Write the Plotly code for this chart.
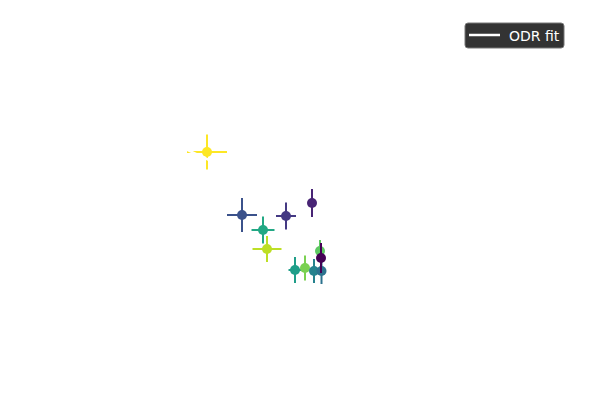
import plotly.graph_objects as go

x_vals = [2.07, 2.42, 2.63, 2.86, 3.12, 2.67, 2.95, 3.05, 3.14, 3.215, 3.20, 3.21]
y_vals = [2.48, 1.85, 1.70, 1.84, 1.97, 1.51, 1.30, 1.32, 1.29, 1.29, 1.49, 1.42]
x_err = [0.20, 0.15, 0.115, 0.10, 0.02, 0.145, 0.065, 0.03, 0.02, 0.02, 0.02, 0.01]
y_err = [0.175, 0.17, 0.135, 0.135, 0.14, 0.13, 0.13, 0.125, 0.12, 0.13, 0.11, 0.15]
colors = ["#fde725", "#3b528b", "#22a884", "#443983", "#482475", "#bddf26",
          "#1f9e89", "#7ad151", "#26828e", "#2c728e", "#5ec962", "#440154"]

fit_slope = -0.47
fit_intercept = 2.48 + 0.47 * 1.92
fit_x = [1.75, 2.20]
fit_y = [fit_slope * v + fit_intercept for v in fit_x]
fit_label = "ODR fit"

W, H = 600, 400

fig = go.Figure()
for xv, yv, ex, ey, c in zip(x_vals, y_vals, x_err, y_err, colors):
    fig.add_trace(go.Scatter(
        x=[xv], y=[yv], mode="markers",
        marker=dict(color=c, size=10),
        error_x=dict(type="data", array=[ex], color=c, thickness=2, width=0),
        error_y=dict(type="data", array=[ey], color=c, thickness=2, width=0),
        showlegend=False,
    ))

fig.add_trace(go.Scatter(
    x=fit_x, y=fit_y, mode="lines", name=fit_label,
    line=dict(color="white", width=2.5), showlegend=False,
))

# legend box drawn in pixel-like paper coordinates (rounded rectangle)
def px(x):
    return x / W

def py(y):
    return 1 - y / H

x0, x1, y0, y1, r = 465, 564, 23, 48, 3
path = (f"M {px(x0 + r)},{py(y0)} L {px(x1 - r)},{py(y0)} "
        f"Q {px(x1)},{py(y0)} {px(x1)},{py(y0 + r)} L {px(x1)},{py(y1 - r)} "
        f"Q {px(x1)},{py(y1)} {px(x1 - r)},{py(y1)} L {px(x0 + r)},{py(y1)} "
        f"Q {px(x0)},{py(y1)} {px(x0)},{py(y1 - r)} L {px(x0)},{py(y0 + r)} "
        f"Q {px(x0)},{py(y0)} {px(x0 + r)},{py(y0)} Z")
fig.add_shape(type="path", path=path, xref="paper", yref="paper",
              fillcolor="#333333", line=dict(color="#777777", width=1))
fig.add_shape(type="line", xref="paper", yref="paper",
              x0=px(469), x1=px(500), y0=py(35), y1=py(35),
              line=dict(color="white", width=2.5))
fig.add_annotation(text=fit_label, xref="paper", yref="paper",
                   x=px(507), y=py(35.5), xanchor="left", yanchor="middle",
                   showarrow=False,
                   font=dict(family="DejaVu Sans", size=14, color="white"))

fig.update_layout(
    width=W, height=H,
    margin=dict(l=0, r=0, t=0, b=0),
    paper_bgcolor="white", plot_bgcolor="white",
    xaxis=dict(visible=False, range=[0, 6]),
    yaxis=dict(visible=False, range=[0, 4]),
    font=dict(family="DejaVu Sans", size=13, color="white"),
    showlegend=False,
)

fig.write_html("out.html")
